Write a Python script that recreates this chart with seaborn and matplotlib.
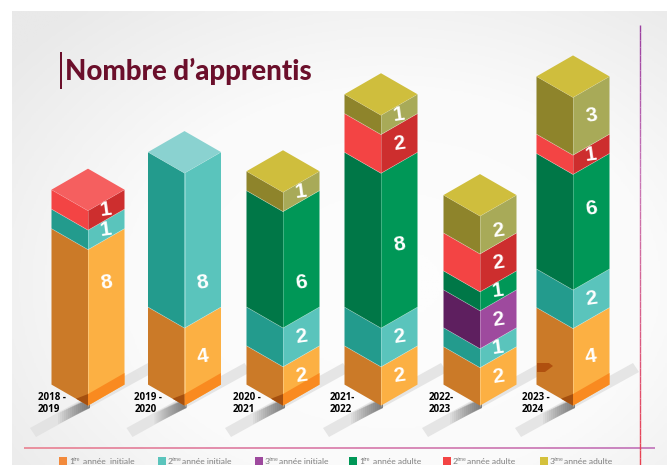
import numpy as np
import pandas as pd
import matplotlib
matplotlib.use('Agg')
import matplotlib.pyplot as plt
from matplotlib.collections import LineCollection
from matplotlib.colors import LinearSegmentedColormap
from matplotlib.transforms import Affine2D
import seaborn as sns

# Data
years = ['2018 -\n2019', '2019 -\n2020', '2020 -\n2021', '2021-\n2022', '2022-\n2023', '2023 -\n2024']
cats = ['1i', '2i', '3i', '1a', '2a', '3a']
init_1 = [8, 4, 2, 2, 2, 4]
init_2 = [1, 8, 2, 2, 1, 2]
init_3 = [0, 0, 0, 0, 2, 0]
adult_1 = [0, 0, 6, 8, 1, 6]
adult_2 = [1, 0, 0, 2, 2, 1]
adult_3 = [0, 0, 1, 1, 2, 3]

df = pd.DataFrame({'1i': init_1, '2i': init_2, '3i': init_3, '1a': adult_1, '2a': adult_2, '3a': adult_3})

# Layout in pixels
W, H = 667, 465
centres = [88, 184.5, 283, 381, 480, 573]
half_w = 36.5
base_px = 405.6
unit_px = 19.3
depth = 21 / unit_px
slope = depth / half_w
base_band = [True, True, True, False, False, True]
# the original bars are not quite drawn to one scale
bar_scale = [1.01, 1.004, 1.005, 1.003, 0.982, 0.998]

left_cols = dict(zip(cats, ['#CB7A28', '#239B8D', '#5E1F5F', '#007747', '#F34444', '#8E842B']))
right_cols = dict(zip(cats, ['#FCB043', '#5AC4BC', '#9E4A9E', '#009757', '#CD2E2E', '#A8AA58']))
top_cols = dict(zip(cats, ['#FCC070', '#8AD2D0', '#B070B0', '#20A870', '#F55F5F', '#CFBE3D']))
legend_cols = ['#F28A3C', '#5AC4BC', '#9E4A9E', '#009757', '#F34444', '#D4C13C']

# hand placed labels in the original, shift in units from the segment middle
label_shift = {(0, '1i'): 1.8, (1, '2i'): -2.2, (2, '1a'): -1.2, (3, '1a'): -0.25,
               (4, '3a'): -0.3, (5, '1a'): 0.7}


def y_of(px):
    return (base_px - px) / unit_px


sns.set_theme(style='white')
plt.rcParams['font.family'] = ['Lato', 'DejaVu Sans']

fig = plt.figure(figsize=(W / 100, H / 100), dpi=100, facecolor='white')
ax = fig.add_axes([0, 0, 1, 1])

# Panel background
yy, xx = np.mgrid[0:1:200j, 0:1:300j]
dist = np.sqrt(((xx - 0.58) / 0.75) ** 2 + ((yy - 0.6) / 0.8) ** 2)
ax.imshow(dist, extent=(12, W, y_of(H), y_of(11)), aspect='auto', zorder=0, origin='upper',
          cmap=LinearSegmentedColormap.from_list('bg', ['#FDFDFD', '#FAFAFA', '#E9E9E9']), vmin=0.1, vmax=1.0)

# Floor strips, with a soft shadow close to the bar
for c in centres:
    ax.fill([c - 58, c - 52, c + 66, c + 60],
            [y_of(428), y_of(437), y_of(372), y_of(363)], color='#E0E0E0', alpha=0.8, lw=0, zorder=1)
    for t in np.arange(2, 32, 2):
        ax.fill([c + 2, c + 2, c - t, c - t],
                [y_of(399), y_of(408), y_of(408 + t * 0.55), y_of(397 + t * 0.55)],
                color='black', alpha=0.035, lw=0, zorder=1)

# Bars
for i, c in enumerate(centres):
    s = bar_scale[i]
    bottom = 0
    for cat in cats:
        v = df.loc[i, cat]
        if v == 0:
            continue
        for side, cols, sign in [(-1, left_cols, -1), (1, right_cols, 1)]:
            sns.barplot(x=[c + side * half_w / 2], y=[v], bottom=bottom, width=half_w, native_scale=True,
                        color=cols[cat], saturation=1, errorbar=None, linewidth=0, ax=ax, zorder=3)
            # shear the bar into an isometric face
            shear = Affine2D.from_values(1, sign * slope, 0, s, 0, -sign * slope * c)
            ax.patches[-1].set_transform(shear + ax.transData)
        # edge between two blocks
        top = s * (bottom + v)
        ax.plot([c - half_w, c, c + half_w], [top + depth, top, top + depth],
                color='white', alpha=0.35, lw=0.5, zorder=4)
        mid = s * (bottom + v / 2) + label_shift.get((i, cat), 0)
        ax.text(c + 18, mid + slope * 18, str(v), color='white', fontsize=15, ha='center', va='center',
                rotation=8, family='Liberation Sans', fontweight='bold', zorder=6)
        bottom += v
        last = cat
    top = s * bottom
    ax.plot([c, c], [0, top], color='white', alpha=0.3, lw=0.6, zorder=4)
    ax.fill([c, c + half_w, c, c - half_w], [top, top + depth, top + 2 * depth, top + depth],
            color=top_cols[last], lw=0, zorder=4)
    if base_band[i]:
        ax.fill([c, c + half_w, c + half_w, c], [0, depth, depth + 0.6, 0.6], color='#F98A20', lw=0, zorder=5)
        ax.fill([c, c, c - 12], [0, 0.6, slope * 12], color='#A5500F', lw=0, zorder=5)
    ax.text(c - 50 + (0 if i < 3 else -1), y_of(403.5), years[i], fontsize=7.0, fontweight='bold',
            family='Open Sans', color='black', ha='left', va='center', linespacing=1.2, zorder=7)

# strip of bar 5 seen through bar 6
ax.fill([537, 549, 553, 545, 537], [y_of(363), y_of(363), y_of(366), y_of(372), y_of(372)],
        color='#B0500F', lw=0, zorder=5)

# Title
ax.fill([60, 62, 62, 60], [y_of(52), y_of(52), y_of(89), y_of(89)], color='#6B0F2B', lw=0, zorder=7)
ax.text(65, y_of(71), 'Nombre d’apprentis', fontsize=19.9, fontweight='black', color='#6B0F2B',
        ha='left', va='center', zorder=7)

# Gradient rules
rule_cmap = LinearSegmentedColormap.from_list('rule', ['#E98090', '#D878A8', '#C070B8'])
xs = np.linspace(24, 655, 60)
segs = [[(a, y_of(448)), (b, y_of(448))] for a, b in zip(xs[:-1], xs[1:])]
ax.add_collection(LineCollection(segs, cmap=rule_cmap, array=np.linspace(0, 1, 59), lw=1.2, zorder=7))
vert_cmap = LinearSegmentedColormap.from_list('vert', ['#9B3FA0', '#C878B8', '#D8608A', '#E84050'])
ys = np.linspace(25, 465, 60)
segs = [[(639.5, y_of(a)), (639.5, y_of(b))] for a, b in zip(ys[:-1], ys[1:])]
ax.add_collection(LineCollection(segs, cmap=vert_cmap, array=np.linspace(0, 1, 59), lw=1.0, zorder=7))

# Legend
sw_x = [59, 158, 255, 349, 443, 540]
nums = ['1', '2', '3', '1', '2', '3']
sups = ['ère', 'ème', 'ème', 'ère', 'ème', 'ème']
rests = ['année  initiale', 'année initiale', 'année initiale', 'année adulte', 'année adulte', 'année adulte']
for x, col, n, s, r in zip(sw_x, legend_cols, nums, sups, rests):
    ax.fill([x, x + 8, x + 8, x], [y_of(457), y_of(457), y_of(466), y_of(466)], color=col, lw=0, zorder=7)
    ax.text(x + 10, y_of(461), n, fontsize=6.1, color='#7F7F7F', ha='left', va='center', zorder=7)
    ax.text(x + 14, y_of(459), s, fontsize=3.8, color='#7F7F7F', ha='left', va='center', zorder=7)
    ax.text(x + 24, y_of(461), r, fontsize=6.1, color='#7F7F7F', ha='left', va='center', zorder=7)

ax.set_xlim(0, W)
ax.set_ylim(y_of(H), y_of(0))
ax.axis('off')

fig.savefig('out.png', dpi=100, facecolor='white')
